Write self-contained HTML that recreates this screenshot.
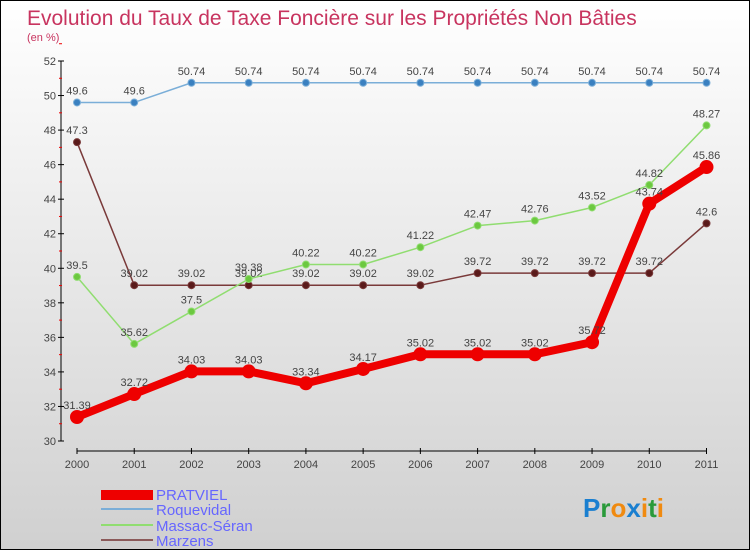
<!DOCTYPE html>
<html><head><meta charset="utf-8"><style>
body{margin:0}
#c{width:748px;height:548px;border:1px solid #000;background:linear-gradient(#fff,#d0d0d0);position:relative;font-family:"Liberation Sans",sans-serif;overflow:hidden}
text{font-family:"Liberation Sans",sans-serif}
</style></head><body>
<div id="c">
<svg id="s" width="748" height="548">
<text x="26" y="24" font-size="21" fill="#c8345f">Evolution du Taux de Taxe Foncière sur les Propriétés Non Bâties</text>
<text x="26" y="40" font-size="11" fill="#c8345f">(en %)</text>
<g id="axes"></g><g id="series"></g>
<g>
<rect x="100" y="489" width="52" height="10" fill="#e00"/>
<text x="155" y="499" font-size="15" fill="#66f">PRATVIEL</text>
<rect x="100" y="507" width="52" height="2" fill="#7aaed8"/>
<text x="155" y="514" font-size="15" fill="#66f">Roquevidal</text>
<rect x="100" y="523" width="52" height="2" fill="#90dd70"/>
<text x="155" y="530" font-size="15" fill="#66f">Massac-Séran</text>
<rect x="100" y="538" width="52" height="2" fill="#8b5a5a"/>
<text x="155" y="545" font-size="15" fill="#66f">Marzens</text>
</g>
<g font-size="26" font-weight="bold">
<text x="582" y="516"><tspan fill="#1a7fd0">P</tspan><tspan fill="#2a9a3a">r</tspan><tspan fill="#f08a10">o</tspan><tspan fill="#1a7fd0">x</tspan><tspan fill="#f08a10">i</tspan><tspan fill="#2a9a3a">t</tspan><tspan fill="#f08a10">i</tspan></text>
</g>
</svg></div>
<script>
const years=[2000,2001,2002,2003,2004,2005,2006,2007,2008,2009,2010,2011];
const yTicks=[30,32,34,36,38,40,42,44,46,48,50,52];
const pratviel=[31.39,32.72,34.03,34.03,33.34,34.17,35.02,35.02,35.02,35.72,43.74,45.86];
const roquevidal=[49.6,49.6,50.74,50.74,50.74,50.74,50.74,50.74,50.74,50.74,50.74,50.74];
const massac=[39.5,35.62,37.5,39.38,40.22,40.22,41.22,42.47,42.76,43.52,44.82,48.27];
const marzens=[47.3,39.02,39.02,39.02,39.02,39.02,39.02,39.72,39.72,39.72,39.72,42.6];
const NS="http://www.w3.org/2000/svg";
const xS=i=>76+i*(705.5-76)/(years.length-1);
const yS=v=>440-(v-30)*(380/22);
function mk(t,a,p){const e=document.createElementNS(NS,t);for(const k in a)e.setAttribute(k,a[k]);p.appendChild(e);return e;}
const ax=document.getElementById('axes');
const yl=mk('line',{x1:60,y1:60,x2:60,y2:440,stroke:'#000'},ax);


yTicks.forEach(v=>{
 mk('line',{x1:57,x2:63,y1:yS(v),y2:yS(v),stroke:'#000'},ax);
 mk('line',{x1:58,x2:61,y1:yS(v+1),y2:yS(v+1),stroke:'#e00'},ax);
 const t=mk('text',{x:55,y:yS(v)+4,'font-size':11,fill:'#444','text-anchor':'end'},ax);t.textContent=v;
 
 
});
const xl=mk('line',{x1:76,y1:450,x2:705.5,y2:450,stroke:'#000'},ax);


years.forEach((y,i)=>{
 mk('line',{x1:xS(i),x2:xS(i),y1:447,y2:453,stroke:'#000'},ax);
 const t=mk('text',{x:xS(i),y:467,'font-size':11,fill:'#444','text-anchor':'middle'},ax);t.textContent=y;
 
 
});
const sg=document.getElementById('series');
function draw(data,color,w,r,name,dot){
 const g=mk('g',{},sg);
 
 
 mk('polyline',{points:data.map((v,i)=>xS(i)+','+yS(v)).join(' '),fill:'none',stroke:color,'stroke-width':w,'stroke-linejoin':'round'},g);
 data.forEach((v,i)=>{
  const c=mk('circle',{cx:xS(i),cy:yS(v),r:r,fill:dot,stroke:color,'stroke-width':1},g);
  
  
  const t=mk('text',{x:xS(i),y:yS(v)-8,'font-size':11,fill:'#444','text-anchor':'middle'},g);
  t.textContent=v;
  
  
 });
}
draw(marzens,'#7a3a3a',1.5,3.5,'marzens','#5a1a1a');
draw(massac,'#90dd70',1.5,3.5,'massac','#6cc840');
draw(roquevidal,'#7aaed8',1.5,3.5,'roquevidal','#3a80c0');
draw(pratviel,'#e00',8,6.5,'pratviel','#e00');
</script>
</body></html>
